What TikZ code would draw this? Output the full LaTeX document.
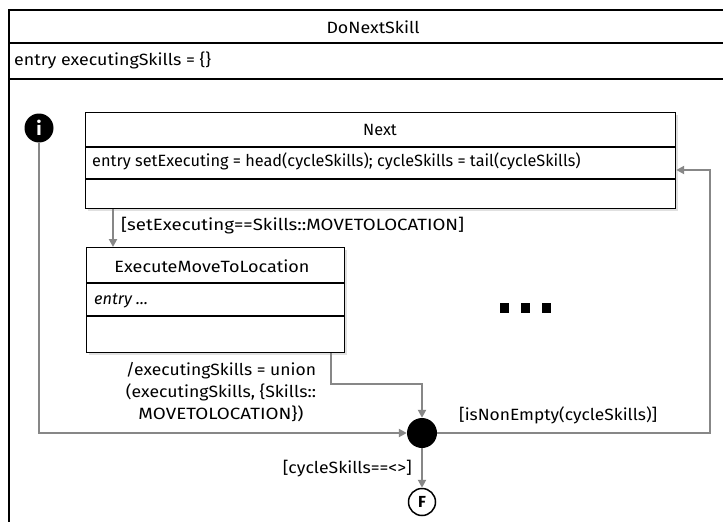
\documentclass[tikz,border=0pt]{standalone}
\usepackage{fontspec}
\usepackage{graphicx}
\setmainfont{Fira Sans}
\usetikzlibrary{arrows.meta}
\newcommand{\fitw}[2]{\resizebox{#1}{\height}{#2}}
\begin{document}
\begin{tikzpicture}[x=1pt,y=-1pt,
  frame/.style={draw=black, line width=1.2pt},
  box/.style={draw=black, line width=1.2pt, fill=white, anchor=north west, inner sep=0pt},
  shadowbox/.style={fill=black!12, anchor=north west, inner sep=0pt, draw=none},
  conn/.style={draw=black!47, line width=2.2pt, -{Triangle[length=8pt,width=8pt]}},
  lbl/.style={font=\fontsize{16.3}{22}\selectfont, inner sep=0pt},
  pseudo/.style={circle, fill=black, inner sep=0pt, minimum size=29pt},
  dot/.style={fill=black, inner sep=0pt, minimum size=9.5pt}
]
\useasboundingbox (0,0) rectangle (723,522);
\fill[white] (0,0) rectangle (723,522);
% outer composite state
\draw[frame] (724,10) -- (9,10) -- (9,524);
\draw[frame] (9,43) -- (724,43);
\draw[frame] (9,79) -- (724,79);
\node[lbl] (ttl) at (373,27) {\fitw{93pt}{DoNextSkill}};
\node[lbl, anchor=west] (outentry) at (14,60) {\fitw{197pt}{entry executingSkills = \{\}}};
% Next state
\node[shadowbox, minimum width=590pt, minimum height=96pt] (nextsh) at (88,115) {};
\node[box, minimum width=590pt, minimum height=96pt] (next) at (85,112) {};
\draw[frame] (85,147) -- (675,147);
\draw[frame] (85,179) -- (675,179);
\node[lbl] (nextt) at (380,130) {Next};
\node[lbl, anchor=west] (nexte) at (92,161) {entry setExecuting = head(cycleSkills); cycleSkills = tail(cycleSkills)};
% ExecuteMoveToLocation state
\node[shadowbox, minimum width=258pt, minimum height=105pt] (execsh) at (89,250) {};
\node[box, minimum width=258pt, minimum height=105pt] (exec) at (86,247) {};
\draw[frame] (86,283) -- (344,283);
\draw[frame] (86,316) -- (344,316);
\node[lbl] (exect) at (212,266) {\fitw{195pt}{ExecuteMoveToLocation}};
\node[lbl, anchor=west] (exece) at (94,301) {\itshape entry ...};
% pseudostates
\node[pseudo, minimum size=29pt] (init) at (39,128) {\color{white}\bfseries\fontsize{19}{19}\selectfont i};
\node[pseudo, minimum size=30pt] (junc) at (422,433) {};
\node[circle, draw=black, line width=1.5pt, fill=white, inner sep=0pt, minimum size=27pt] (fin) at (422,502) {\bfseries\fontsize{16}{16}\selectfont F};
% dots
\node[dot] (d1) at (504.5,308) {};
\node[dot] (d2) at (525.5,308) {};
\node[dot] (d3) at (546.5,308) {};
% connectors
\coordinate (r1) at (710,433);
\coordinate (r2) at (710,170);
\draw[conn] ([xshift=28pt]next.south west) -- ([xshift=27pt]exec.north west);
\draw[conn] ([xshift=-14pt]exec.south east) -- ++(0,31) -| (junc);
\draw[conn] (init) |- (junc);
\draw[conn] (junc) -- (r1) -- (r2) -- (r2 -| next.east);
\draw[conn] (junc) -- (fin);
% labels
\node[lbl, anchor=west] (l1) at (121,226) {\fitw{343pt}{[setExecuting==Skills::MOVETOLOCATION]}};
\node[lbl, align=center] (l2) at (221,392) {\fitw{190pt}{/executingSkills = union}\\\fitw{190pt}{(executingSkills, \{Skills::}\\\fitw{165pt}{MOVETOLOCATION\})}};
\node[lbl, anchor=west] (l3) at (459,415) {\fitw{198pt}{[isNonEmpty(cycleSkills)]}};
\node[lbl, anchor=east] (l4) at (412,469) {\fitw{129pt}{[cycleSkills==<>]}};
\end{tikzpicture}
\end{document}
